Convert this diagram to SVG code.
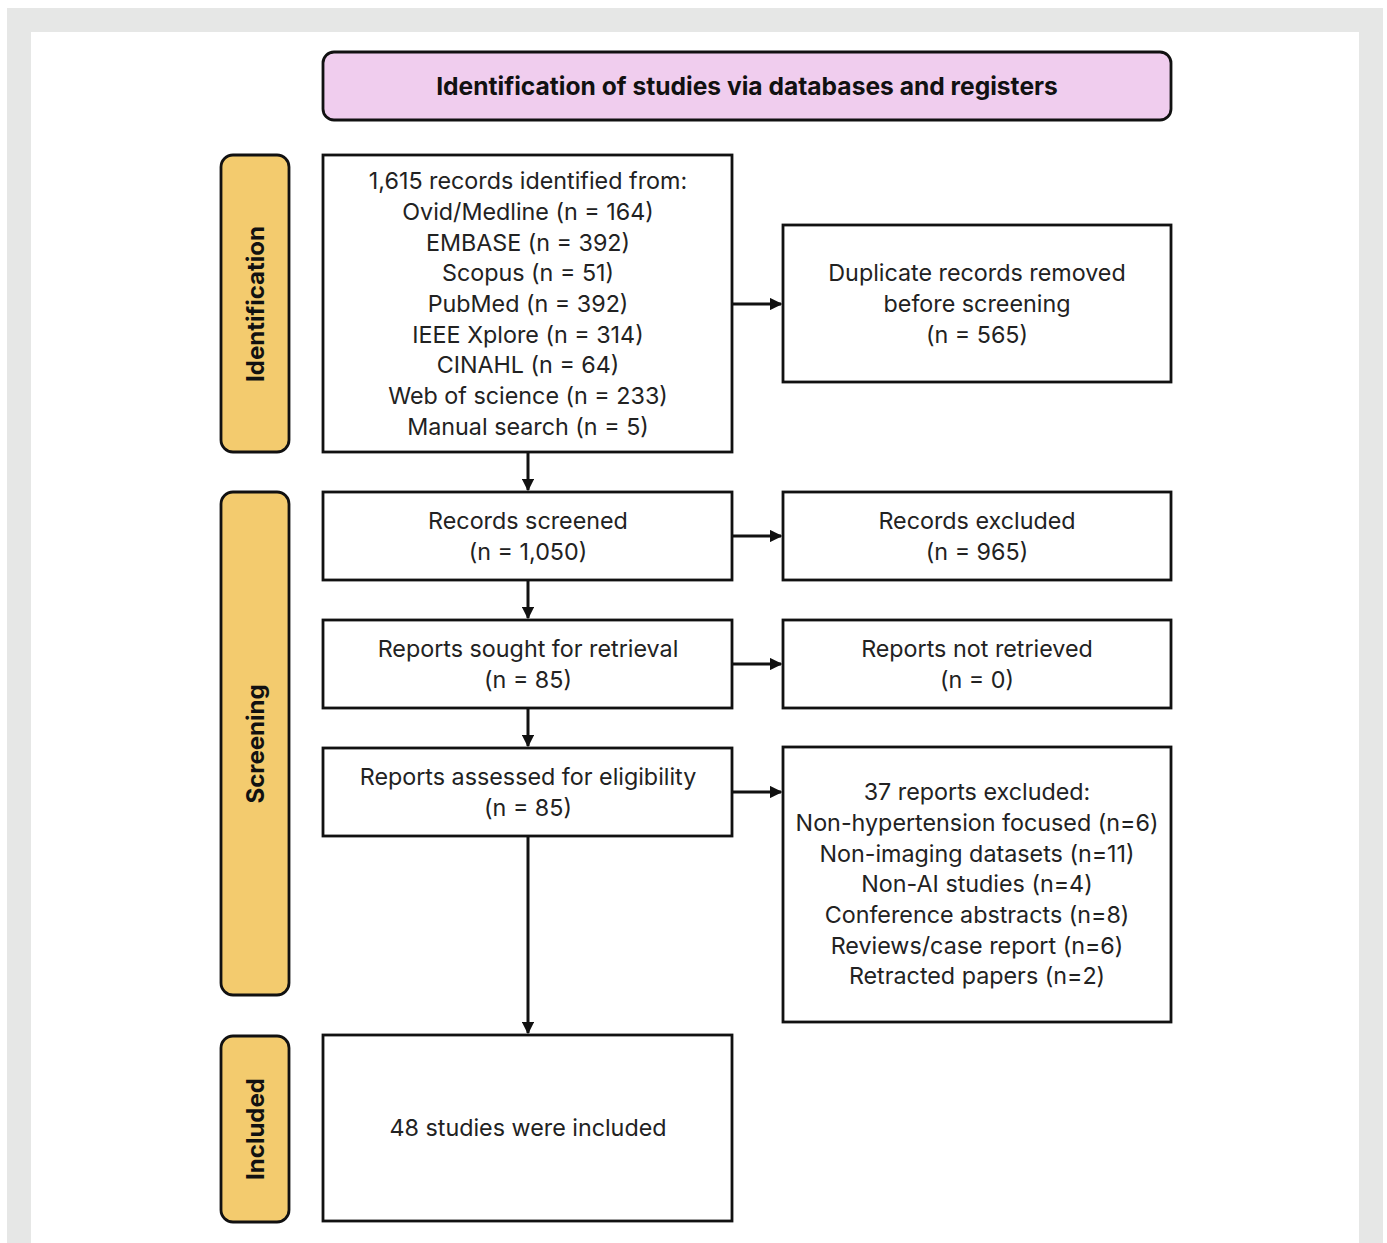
<svg xmlns="http://www.w3.org/2000/svg" width="1387" height="1243" viewBox="0 0 1387 1243">
<defs>
<style>
.box{fill:#fff;stroke:#111;stroke-width:2.8}
.side{fill:#f3cb6e;stroke:#111;stroke-width:2.8}
.title{fill:#f0cdee;stroke:#111;stroke-width:2.8}
.t{font-family:Inter,"Open Sans","Liberation Sans",sans-serif;font-size:23.3px;fill:#222;text-anchor:middle}
.tb{font-family:Inter,"Open Sans","Liberation Sans",sans-serif;font-weight:bold;fill:#111;text-anchor:middle}
.tt{font-size:24.6px}
.ts{font-size:24px}
.c{stroke:#111;stroke-width:3;fill:none;marker-end:url(#ah)}
</style>
<marker id="ah" viewBox="0 0 10 10" refX="9" refY="5" markerWidth="4.2" markerHeight="4.2" markerUnits="strokeWidth" orient="auto">
<path d="M0,0 L10,5 L0,10 z" fill="#111"/>
</marker>
</defs>
<rect x="0" y="0" width="1387" height="1243" fill="#fff"/>
<rect x="7" y="8" width="1376" height="1235" fill="#e6e7e6"/>
<rect x="31" y="32" width="1328" height="1211" fill="#fff"/>

<g id="title">
<rect class="title" x="323" y="52" width="848" height="68" rx="11"/>
<text class="tb tt" x="747" y="95">Identification of studies via databases and registers</text>
</g>

<g id="lbl-identification">
<rect class="side" x="221" y="155" width="68" height="297" rx="12"/>
<text class="tb ts" transform="translate(264,304) rotate(-90)">Identification</text>
</g>
<g id="lbl-screening">
<rect class="side" x="221" y="492" width="68" height="503" rx="12"/>
<text class="tb ts" transform="translate(264,744) rotate(-90)">Screening</text>
</g>
<g id="lbl-included">
<rect class="side" x="221" y="1036" width="68" height="186" rx="12"/>
<text class="tb ts" transform="translate(264,1129) rotate(-90)">Included</text>
</g>

<g id="n-identified">
<rect class="box" x="323" y="155" width="409" height="297"/>
<text class="t" x="528" y="189">1,615 records identified from:</text>
<text class="t" x="528" y="220">Ovid/Medline (n = 164)</text>
<text class="t" x="528" y="251">EMBASE (n = 392)</text>
<text class="t" x="528" y="281">Scopus (n = 51)</text>
<text class="t" x="528" y="312">PubMed (n = 392)</text>
<text class="t" x="528" y="343">IEEE Xplore (n = 314)</text>
<text class="t" x="528" y="373">CINAHL (n = 64)</text>
<text class="t" x="528" y="404">Web of science (n = 233)</text>
<text class="t" x="528" y="435">Manual search (n = 5)</text>
</g>
<g id="n-duplicates">
<rect class="box" x="783" y="225" width="388" height="157"/>
<text class="t" x="977" y="281">Duplicate records removed</text>
<text class="t" x="977" y="312">before screening</text>
<text class="t" x="977" y="343">(n = 565)</text>
</g>
<g id="n-screened">
<rect class="box" x="323" y="492" width="409" height="88"/>
<text class="t" x="528" y="529">Records screened</text>
<text class="t" x="528" y="560">(n = 1,050)</text>
</g>
<g id="n-excluded">
<rect class="box" x="783" y="492" width="388" height="88"/>
<text class="t" x="977" y="529">Records excluded</text>
<text class="t" x="977" y="560">(n = 965)</text>
</g>
<g id="n-sought">
<rect class="box" x="323" y="620" width="409" height="88"/>
<text class="t" x="528" y="657">Reports sought for retrieval</text>
<text class="t" x="528" y="688">(n = 85)</text>
</g>
<g id="n-notretrieved">
<rect class="box" x="783" y="620" width="388" height="88"/>
<text class="t" x="977" y="657">Reports not retrieved</text>
<text class="t" x="977" y="688">(n = 0)</text>
</g>
<g id="n-assessed">
<rect class="box" x="323" y="748" width="409" height="88"/>
<text class="t" x="528" y="785">Reports assessed for eligibility</text>
<text class="t" x="528" y="816">(n = 85)</text>
</g>
<g id="n-reportsexcluded">
<rect class="box" x="783" y="747" width="388" height="275"/>
<text class="t" x="977" y="800">37 reports excluded:</text>
<text class="t" x="977" y="831">Non-hypertension focused (n=6)</text>
<text class="t" x="977" y="862">Non-imaging datasets (n=11)</text>
<text class="t" x="977" y="892">Non-AI studies (n=4)</text>
<text class="t" x="977" y="923">Conference abstracts (n=8)</text>
<text class="t" x="977" y="954">Reviews/case report (n=6)</text>
<text class="t" x="977" y="984">Retracted papers (n=2)</text>
</g>
<g id="n-included">
<rect class="box" x="323" y="1035" width="409" height="186"/>
<text class="t" x="528" y="1136">48 studies were included</text>
</g>

<g id="connectors">
<path class="c" d="M528,452 L528,490"/>
<path class="c" d="M528,580 L528,618"/>
<path class="c" d="M528,708 L528,746"/>
<path class="c" d="M528,836 L528,1033"/>
<path class="c" d="M732,304 L781,304"/>
<path class="c" d="M732,536 L781,536"/>
<path class="c" d="M732,664 L781,664"/>
<path class="c" d="M732,792 L781,792"/>
</g>
</svg>
